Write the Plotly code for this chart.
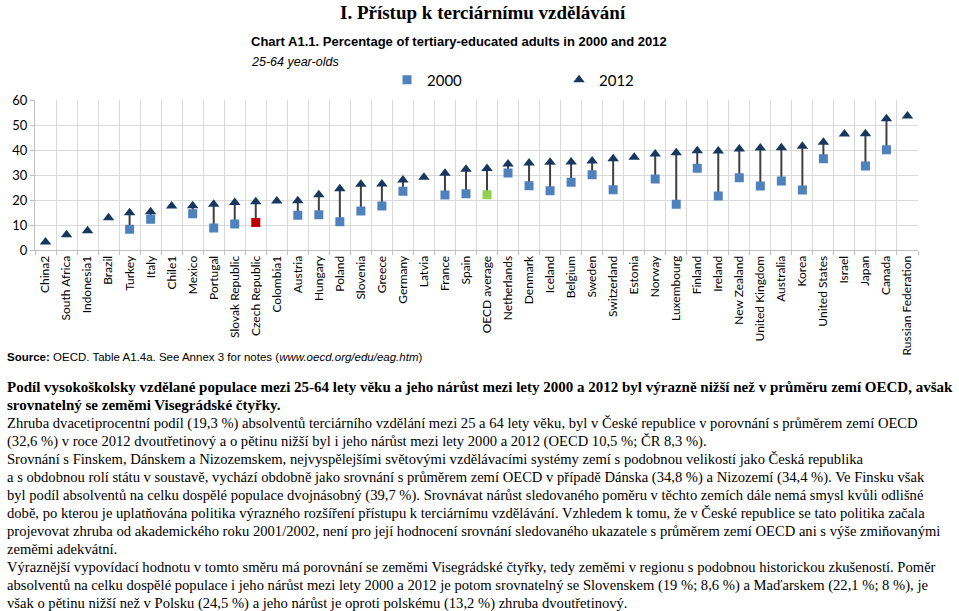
import plotly.graph_objects as go

categories = ["China2", "South Africa", "Indonesia1", "Brazil", "Turkey", "Italy", "Chile1", "Mexico",
              "Portugal", "Slovak Republic", "Czech Republic", "Colombia1", "Austria", "Hungary", "Poland",
              "Slovenia", "Greece", "Germany", "Latvia", "France", "Spain", "OECD average", "Netherlands",
              "Denmark", "Iceland", "Belgium", "Sweden", "Switzerland", "Estonia", "Norway", "Luxembourg",
              "Finland", "Ireland", "New Zealand", "United Kingdom", "Australia", "Korea", "United States",
              "Israel", "Japan", "Canada", "Russian Federation"]

values_2012 = [3.2, 6.1, 7.7, 12.9, 14.9, 15.3, 17.6, 17.7, 18.3, 19.0, 19.3, 19.6, 19.7, 22.1, 24.5,
               26.3, 26.4, 28.0, 29.1, 30.7, 32.3, 32.6, 34.4, 34.8, 35.1, 35.2, 35.6, 36.5, 37.1, 38.4, 38.9,
               39.7, 39.6, 40.4, 40.8, 40.9, 41.5, 43.1, 46.4, 46.5, 52.5, 53.6]

values_2000 = [None, None, None, None, 8.3, 12.3, None, 14.5, 8.8, 10.4, 11.0, None, 13.9, 14.1, 11.3,
               15.6, 17.6, 23.5, None, 22.0, 22.5, 22.1, 30.8, 25.7, 23.7, 27.1, 30.1, 24.1, None, 28.4, 18.3,
               32.7, 21.6, 28.9, 25.6, 27.6, 24.0, 36.5, None, 33.6, 40.1, None]

y_ticks = [0, 10, 20, 30, 40, 50, 60]

highlight = {"Czech Republic": "#C00000", "OECD average": "#92D050"}
BLUE = "#4F81BD"
NAVY = "#17375E"

W, H = 959, 611
PL, PR, PT, PB = 30, 918, 100, 250


def px(x):
    return (x - PL) / (PR - PL)


def py(y):
    return (PB - y) / (PB - PT)


# connector lines
lx, ly = [], []
for c, a, b in zip(categories, values_2000, values_2012):
    if a is not None:
        lx += [c, c, None]
        ly += [a, b, None]

sq_x = [c for c, a in zip(categories, values_2000) if a is not None]
sq_y = [a for a in values_2000 if a is not None]
sq_col = [highlight.get(c, BLUE) for c in sq_x]

fig = go.Figure()
fig.add_trace(go.Scatter(x=lx, y=ly, mode="lines", line=dict(color="#404040", width=2),
                         showlegend=False, hoverinfo="skip"))
fig.add_trace(go.Scatter(x=sq_x, y=sq_y, mode="markers", name="2000",
                         marker=dict(symbol="square", size=9, color=sq_col)))
fig.add_trace(go.Scatter(x=categories, y=values_2012, mode="markers", name="2012",
                         marker=dict(symbol="triangle-up", size=10, color=NAVY)))

LABEL_FONT = "Lato, Calibri, Carlito, sans-serif"
NARROW = "Liberation Sans Narrow, Arial Narrow, Liberation Sans, sans-serif"
SERIF = "Liberation Serif, Times New Roman, serif"

fig.update_xaxes(type="category", categoryorder="array", categoryarray=categories,
                 tickson="boundaries", showgrid=True, gridcolor="#D9D9D9", gridwidth=1,
                 tickangle=-90, tickfont=dict(family=LABEL_FONT, size=12, color="#000000"),
                 showline=True, linecolor="#BFBFBF", ticks="outside", ticklen=4, tickcolor="#BFBFBF",
                 range=[-0.5, len(categories) - 0.5], fixedrange=True)
fig.update_yaxes(range=[0, 60], tickvals=y_ticks, showgrid=True, gridcolor="#D9D9D9", gridwidth=1,
                 tickfont=dict(family=LABEL_FONT, size=13, color="#000000"),
                 showline=True, linecolor="#BFBFBF", ticks="outside", ticklen=4, tickcolor="#BFBFBF",
                 zeroline=False, fixedrange=True)

annotations = []


def text(x, y, t, size, family, anchor="left", color="#000000"):
    annotations.append(dict(x=px(x), y=py(y), xref="paper", yref="paper", text=t, showarrow=False,
                            xanchor=anchor, yanchor="middle", align=anchor,
                            font=dict(size=size, family=family, color=color)))


text(481, 12, "<b>I. Přístup k terciárnímu vzdělávání</b>", 19, SERIF, anchor="center")
text(245, 42, "<b>Chart A1.1. Percentage of tertiary-educated adults in 2000 and 2012</b>", 13, NARROW)
text(245, 62, "<i>25-64 year-olds</i>", 12.5, NARROW)
text(0, 357, "<b>Source:</b> OECD. Table A1.4a. See Annex 3 for notes (<i>www.oecd.org/edu/eag.htm</i>)",
     11.5, NARROW)

bold_lines = [
    "Podíl vysokoškolsky vzdělané populace mezi 25-64 lety věku a jeho nárůst mezi lety 2000 a 2012 byl výrazně nižší než v průměru zemí OECD, avšak",
    "srovnatelný se zeměmi Visegrádské čtyřky.",
]
body_lines = [
    "Zhruba dvacetiprocentní podíl (19,3 %) absolventů terciárního vzdělání mezi 25 a 64 lety věku, byl v České republice v porovnání s průměrem zemí OECD",
    "(32,6 %) v roce 2012 dvoutřetinový a o pětinu nižší byl i jeho nárůst mezi lety 2000 a 2012 (OECD 10,5 %; ČR 8,3 %).",
    "Srovnání s Finskem, Dánskem a Nizozemskem, nejvyspělejšími světovými vzdělávacími systémy zemí s podobnou velikostí jako Česká republika",
    "a s obdobnou rolí státu v soustavě, vychází obdobně jako srovnání s průměrem zemí OECD v případě Dánska (34,8 %) a Nizozemí (34,4 %). Ve Finsku však",
    "byl podíl absolventů na celku dospělé populace dvojnásobný (39,7 %). Srovnávat nárůst sledovaného poměru v těchto zemích dále nemá smysl kvůli odlišné",
    "době, po kterou je uplatňována politika výrazného rozšíření přístupu k terciárnímu vzdělávání. Vzhledem k tomu, že v České republice se tato politika začala",
    "projevovat zhruba od akademického roku 2001/2002, není pro její hodnocení srovnání sledovaného ukazatele s průměrem zemí OECD ani s výše zmiňovanými",
    "zeměmi adekvátní.",
    "Výraznější vypovídací hodnotu v tomto směru má porovnání se zeměmi Visegrádské čtyřky, tedy zeměmi v regionu s podobnou historickou zkušeností. Poměr",
    "absolventů na celku dospělé populace i jeho nárůst mezi lety 2000 a 2012 je potom srovnatelný se Slovenskem (19 %; 8,6 %) a Maďarskem (22,1 %; 8 %), je",
    "však o pětinu nižší než v Polsku (24,5 %) a jeho nárůst je oproti polskému (13,2 %) zhruba dvoutřetinový.",
]

y0 = 387
step = 18
for i, t in enumerate(bold_lines):
    text(0, y0 + i * step, "<b>" + t + "</b>", 15, SERIF)
for i, t in enumerate(body_lines):
    text(0, y0 + (i + 2) * step, t, 14.6, SERIF)

fig.update_layout(
    width=W, height=H,
    margin=dict(l=PL, r=W - PR, t=PT, b=H - PB, pad=0),
    paper_bgcolor="white", plot_bgcolor="white",
    showlegend=True,
    legend=dict(orientation="h", x=px(384), y=py(80), xanchor="left", yanchor="middle",
                font=dict(family=LABEL_FONT, size=15, color="#000000"),
                itemwidth=30, entrywidth=127, entrywidthmode="pixels", bgcolor="rgba(0,0,0,0)"),
    annotations=annotations,
)

fig.write_html("out.html", config={"displayModeBar": False},
               post_script="document.body.style.margin='0';document.body.style.padding='0';")
